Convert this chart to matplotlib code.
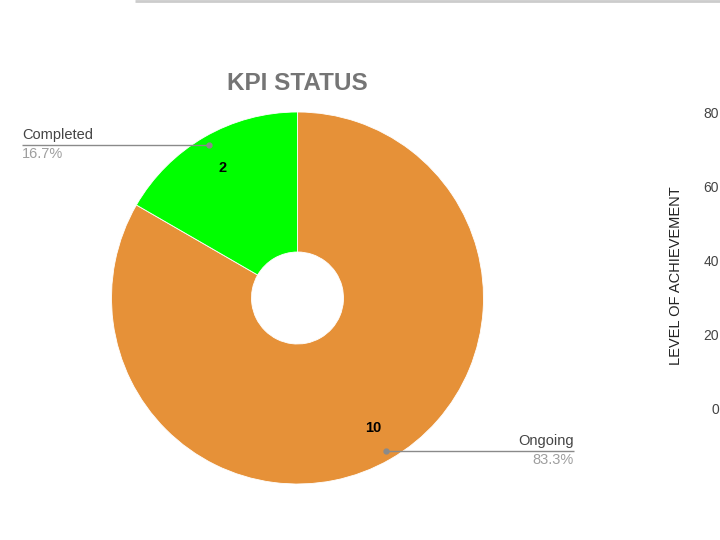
import matplotlib
matplotlib.use("Agg")
import matplotlib.pyplot as plt
import numpy as np

plt.rcParams['font.family'] = ['Liberation Sans', 'DejaVu Sans']

categories = ["Ongoing", "Completed"]
counts = [10, 2]
colors = ["#E69138", "#00FF00"]
title = "KPI STATUS"
right_ticks = [0, 20, 40, 60, 80]
right_label = "LEVEL OF ACHIEVEMENT"

W, H = 720, 540
fig = plt.figure(figsize=(7.2, 5.4), dpi=100)

ax = fig.add_axes([0, 0, 1, 1])
cx, cy = 297.5, H - 298
R = 186
hole = 46 / 186

total = sum(counts)
wedges, _ = ax.pie(counts, colors=colors, startangle=90, counterclock=False,
                   center=(cx, cy), radius=R,
                   wedgeprops=dict(width=R * (1 - hole), edgecolor="white", linewidth=0.6))
ax.set_xlim(0, W)
ax.set_ylim(0, H)
ax.set_aspect("equal")
ax.axis("off")

angle = 90.0
for i, (cat, v) in enumerate(zip(categories, counts)):
    span = 360.0 * v / total
    mid = np.deg2rad(angle - span / 2)
    angle -= span
    lx = cx + 0.81 * R * np.cos(mid)
    ly = cy + 0.81 * R * np.sin(mid)
    ax.text(lx, ly, str(v), ha="center", va="center", fontsize=10.5,
            fontweight="bold", color="#000000")
    px = cx + 0.95 * R * np.cos(mid)
    py = cy + 0.95 * R * np.sin(mid)
    pct = f"{100.0 * v / total:.1f}%"
    if np.cos(mid) < 0:
        x_end = 22
        ha = "left"
    else:
        x_end = 574
        ha = "right"
    ax.plot([px, x_end], [py, py], color="#8a8a8a", lw=1.0, solid_capstyle="butt")
    ax.plot([px], [py], marker="o", ms=3.5, color="#8a8a8a")
    ax.text(x_end, py + 3, cat, ha=ha, va="bottom", fontsize=10.5, color="#444444")
    ax.text(x_end, py - 2, pct, ha=ha, va="top", fontsize=10.5, color="#9e9e9e")

ax.text(cx, H - 83, title, ha="center", va="center", fontsize=17.5,
        fontweight="bold", color="#757575")

ax.plot([135, W], [H - 0.5, H - 0.5], color="#cccccc", lw=2.0, solid_capstyle="butt")

ax2 = fig.add_axes([722 / W, (H - 408) / H, 0.3, (408 - 113) / H])
ax2.set_ylim(0, 80)
ax2.set_yticks(right_ticks)
ax2.set_yticklabels([str(t) for t in right_ticks])
ax2.tick_params(axis="y", length=0, pad=2, labelsize=10, labelcolor="#444444")
ax2.set_xticks([])
for s in ax2.spines.values():
    s.set_visible(False)
ax2.set_ylabel(right_label, fontsize=10.5, color="#222222")
ax2.yaxis.label.set_va("center")
ax2.yaxis.set_label_coords(676 / W, (H - 276) / H, transform=fig.transFigure)

fig.savefig("out.png", dpi=100)
